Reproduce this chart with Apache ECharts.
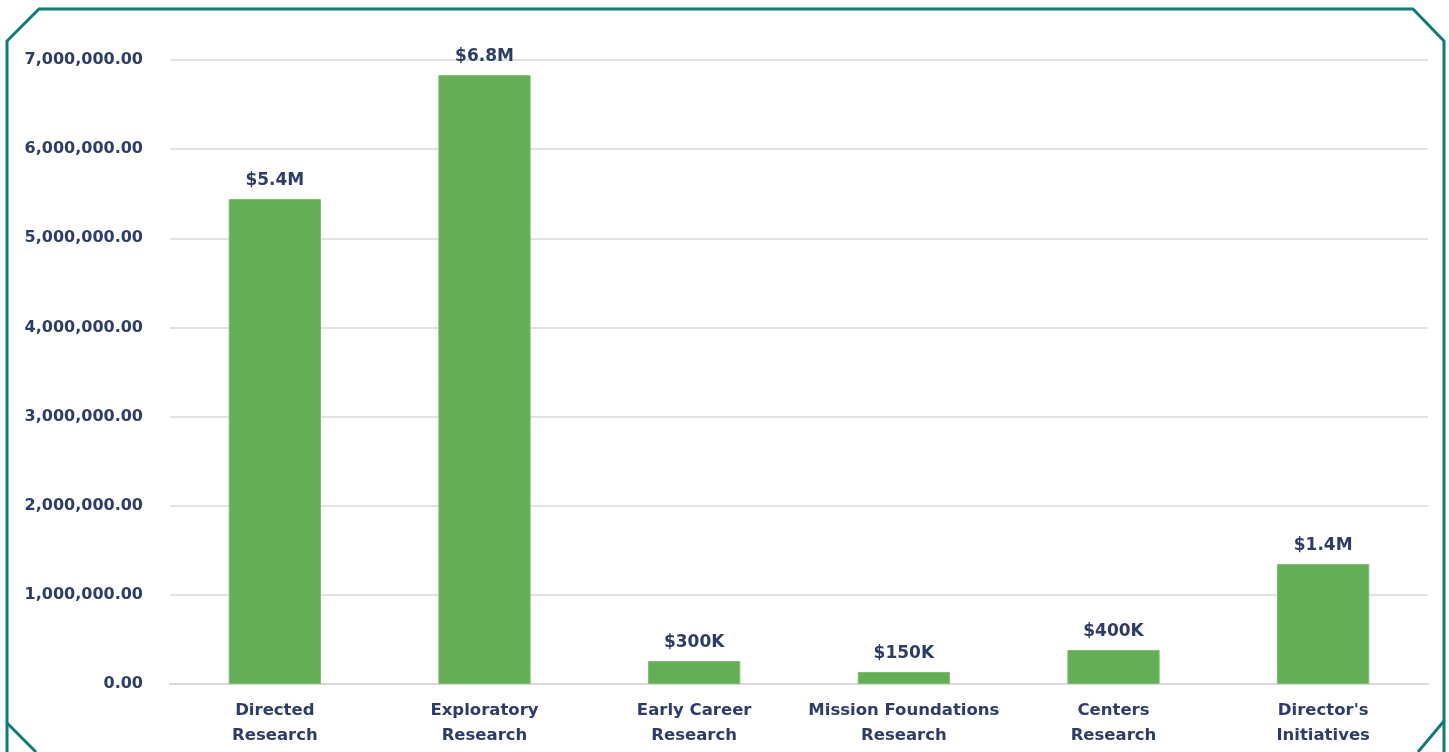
<!DOCTYPE html>
<html><head><meta charset="utf-8">
<script src="https://cdn.jsdelivr.net/npm/echarts@6/dist/echarts.min.js"></script>
<style>html,body{margin:0;padding:0;background:#fff}#c{width:1449px;height:752px}</style>
</head><body><div id="c"></div>
<script>
const categories = ["Directed\nResearch", "Exploratory\nResearch", "Early Career\nResearch", "Mission Foundations\nResearch", "Centers\nResearch", "Director's\nInitiatives"];
const values = [5440000, 6830000, 258000, 135000, 381000, 1346000];
const valueLabels = ["$5.4M", "$6.8M", "$300K", "$150K", "$400K", "$1.4M"];
const yTicks = { min: 0, max: 7000000, interval: 1000000 };

const textColor = '#2d3d6a';
const font = '"DejaVu Sans", sans-serif';
const chart = echarts.init(document.getElementById('c'), null, {renderer: 'canvas'});
chart.setOption({
  animation: false,
  grid: { left: 170, right: 21, top: 60, bottom: 68 },
  xAxis: {
    type: 'category', data: categories,
    axisLine: { lineStyle: { color: '#d9d9d9', width: 2 } },
    axisTick: { show: false },
    axisLabel: { color: textColor, fontFamily: font, fontWeight: 'bold', fontSize: 16.5, lineHeight: 25, margin: 14, interval: 0 }
  },
  yAxis: {
    type: 'value', min: yTicks.min, max: yTicks.max, interval: yTicks.interval,
    axisLine: { show: false }, axisTick: { show: false },
    splitLine: { lineStyle: { color: '#d9d9d9', width: 1.5 } },
    axisLabel: { color: textColor, fontFamily: font, fontWeight: 'bold', fontSize: 16, margin: 27,
      formatter: v => v.toLocaleString('en-US', {minimumFractionDigits: 2, maximumFractionDigits: 2}) }
  },
  series: [{
    type: 'bar', data: values, barWidth: '44%',
    itemStyle: { color: '#65ad56', borderColor: '#7cc06c', borderWidth: 1 },
    label: { show: true, position: 'top', distance: 10, color: textColor, fontFamily: font, fontWeight: 'bold', fontSize: 17,
      formatter: p => valueLabels[p.dataIndex] }
  }],
  graphic: [{
    type: 'polyline',
    shape: { points: [[7, 752], [7, 41], [39, 9], [1413, 9], [1444, 41], [1444, 752]] },
    style: { stroke: '#0f7b7b', lineWidth: 3, fill: null }
  }, {
    type: 'line', shape: { x1: 7, y1: 723, x2: 36, y2: 752 }, style: { stroke: '#0f7b7b', lineWidth: 3 }
  }, {
    type: 'line', shape: { x1: 1444, y1: 721, x2: 1418, y2: 752 }, style: { stroke: '#0f7b7b', lineWidth: 3 }
  }]
});
</script></body></html>
